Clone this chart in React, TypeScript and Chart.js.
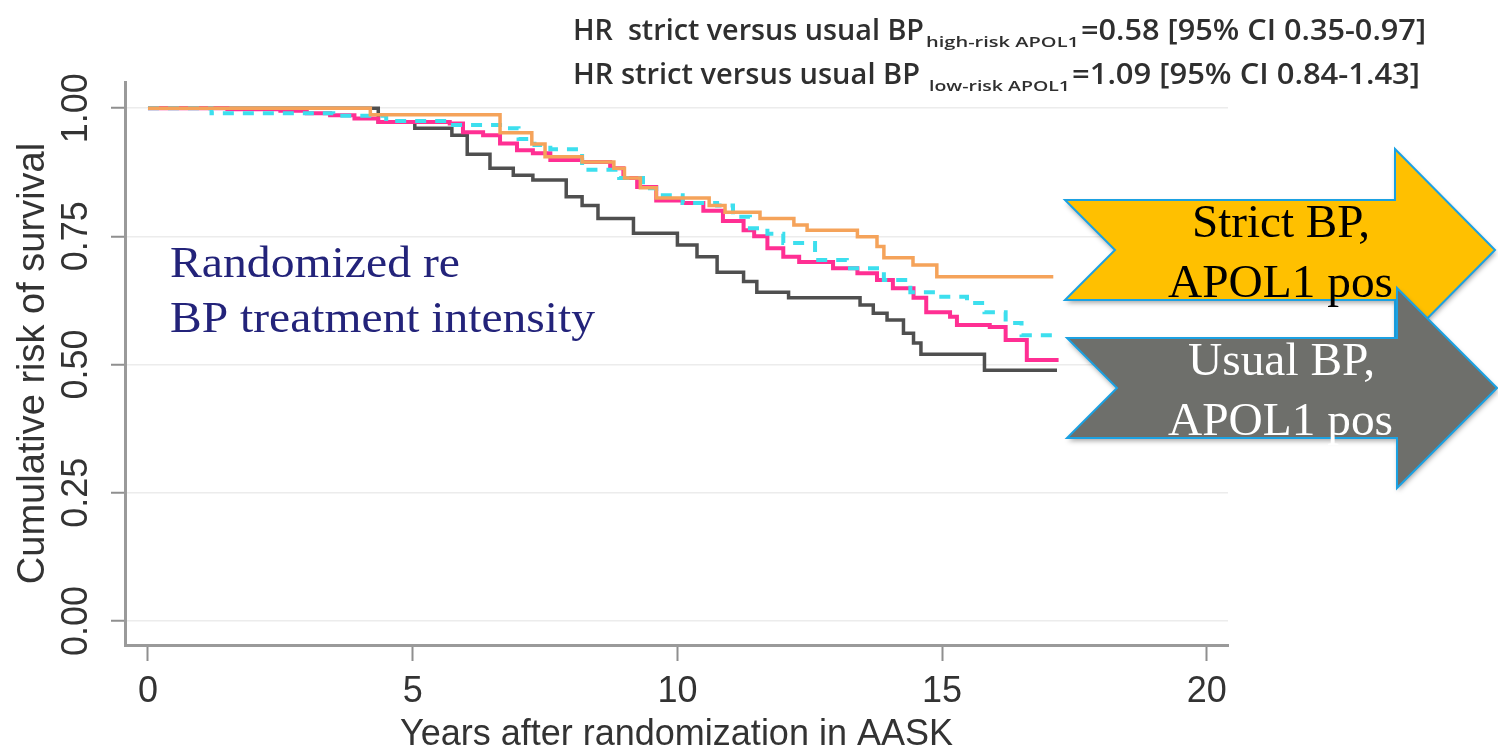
import React, { useEffect, useRef } from 'react';
import { Chart, registerables } from 'chart.js';

Chart.register(...registerables);

// ---------------- data ----------------
const xTickValues = [0, 5, 10, 15, 20];
const yTickValues = [0, 0.25, 0.5, 0.75, 1];
const yTickLabels = ['0.00', '0.25', '0.50', '0.75', '1.00'];

const xTitle = 'Years after randomization in AASK';
const yTitle = 'Cumulative risk of survival';

// Strict BP, APOL1 positive (orange)
const strictPosTimes = [0, 4.2, 6.65, 7.25, 7.5, 8.2, 8.8, 9.0, 9.3, 9.6, 10.6, 10.9, 11.56, 12.2, 12.45, 13.4, 13.77, 13.9, 14.45, 14.9, 17.1];
const strictPosSurv = [1.0, 0.987, 0.952, 0.93, 0.905, 0.895, 0.883, 0.864, 0.845, 0.825, 0.81, 0.797, 0.785, 0.772, 0.762, 0.749, 0.73, 0.708, 0.694, 0.671, 0.671];

// Usual BP, APOL1 positive (dark grey)
const usualPosTimes = [0, 4.35, 5.04, 5.74, 6.03, 6.46, 6.9, 7.27, 7.9, 8.2, 8.5, 9.17, 10.0, 10.37, 10.75, 11.25, 11.5, 12.1, 13.45, 13.7, 13.96, 14.27, 14.46, 14.6, 15.8, 17.17];
const usualPosSurv = [1.0, 0.973, 0.961, 0.947, 0.91, 0.883, 0.869, 0.86, 0.827, 0.81, 0.785, 0.756, 0.733, 0.71, 0.68, 0.662, 0.641, 0.63, 0.616, 0.6, 0.587, 0.561, 0.542, 0.52, 0.489, 0.489];

// Strict BP, APOL1 negative (magenta)
const strictNegTimes = [0, 1.5, 2.5, 3.0, 3.44, 3.9, 4.35, 5.7, 5.95, 6.33, 6.65, 6.97, 7.27, 7.6, 8.2, 8.73, 8.98, 9.24, 9.6, 10.1, 10.49, 10.86, 11.25, 11.45, 11.7, 12.0, 12.3, 12.94, 13.4, 13.77, 14.07, 14.46, 14.7, 15.15, 15.28, 15.9, 16.2, 16.6, 17.2];
const strictNegSurv = [1.0, 0.998, 0.995, 0.99, 0.986, 0.98, 0.973, 0.97, 0.953, 0.947, 0.931, 0.918, 0.912, 0.899, 0.895, 0.883, 0.864, 0.846, 0.82, 0.815, 0.8, 0.78, 0.762, 0.75, 0.727, 0.71, 0.7, 0.688, 0.678, 0.665, 0.649, 0.63, 0.602, 0.593, 0.577, 0.573, 0.548, 0.509, 0.509];

// Usual BP, APOL1 negative (cyan dashed)
const usualNegTimes = [0, 1.2, 3.5, 4.5, 5.7, 6.65, 7.0, 7.3, 7.6, 8.2, 8.9, 9.35, 9.6, 10.1, 10.75, 11.05, 11.37, 11.7, 12.0, 12.6, 13.2, 13.9, 14.4, 14.9, 15.47, 15.8, 16.2, 16.5, 17.1];
const usualNegSurv = [1.0, 0.99, 0.985, 0.975, 0.967, 0.961, 0.94, 0.928, 0.92, 0.88, 0.864, 0.844, 0.83, 0.815, 0.81, 0.788, 0.766, 0.755, 0.737, 0.704, 0.688, 0.665, 0.641, 0.632, 0.62, 0.602, 0.581, 0.557, 0.557];

const hrLine1Main = 'HR  strict versus usual BP';
const hrLine1Sub = 'high-risk APOL1';
const hrLine1Tail = '=0.58 [95% CI 0.35-0.97]';
const hrLine2Main = 'HR strict versus usual BP';
const hrLine2Sub = 'low-risk APOL1';
const hrLine2Tail = '=1.09 [95% CI 0.84-1.43]';

const noteLines = ['Randomized re', 'BP treatment intensity'];
const strictArrowLines = ['Strict BP,', 'APOL1 pos'];
const usualArrowLines = ['Usual BP,', 'APOL1 pos'];

// ---------------- helpers ----------------
const SANS = '"Liberation Sans", Arial, Helvetica, sans-serif';
const SERIF = '"Liberation Serif", "Times New Roman", serif';
const HEAD = '"Open Sans", "Noto Sans", sans-serif';

function toPoints(times: number[], surv: number[]) {
  return times.map((t, i) => ({ x: t, y: surv[i] }));
}

function fitText(ctx: CanvasRenderingContext2D, text: string, x: number, baseline: number, width: number, font: string, color: string) {
  ctx.save();
  ctx.font = font;
  ctx.fillStyle = color;
  ctx.textAlign = 'left';
  ctx.textBaseline = 'alphabetic';
  const w = ctx.measureText(text).width;
  ctx.translate(x, baseline);
  ctx.scale(width / w, 1);
  ctx.fillText(text, 0, 0);
  ctx.restore();
}

function arrowPath(ctx: CanvasRenderingContext2D, left: number, midY: number, shaftHalf: number, notch: number, headX: number, headHalf: number, tipX: number) {
  ctx.beginPath();
  ctx.moveTo(left, midY - shaftHalf);
  ctx.lineTo(headX, midY - shaftHalf);
  ctx.lineTo(headX, midY - headHalf);
  ctx.lineTo(tipX, midY);
  ctx.lineTo(headX, midY + headHalf);
  ctx.lineTo(headX, midY + shaftHalf);
  ctx.lineTo(left, midY + shaftHalf);
  ctx.lineTo(left + notch, midY);
  ctx.closePath();
}

const overlayPlugin = {
  id: 'overlay',
  afterDraw(chart: any) {
    const ctx: CanvasRenderingContext2D = chart.ctx;
    const ys = chart.scales.y;

    // rotated y tick labels (Stata style)
    ctx.save();
    ctx.fillStyle = '#333333';
    ctx.font = `36px ${SANS}`;
    ctx.textAlign = 'center';
    ctx.textBaseline = 'middle';
    yTickValues.forEach((v, i) => {
      const py = ys.getPixelForValue(v);
      ctx.save();
      ctx.translate(77, py);
      ctx.rotate(-Math.PI / 2);
      ctx.fillText(yTickLabels[i], 0, 0);
      ctx.restore();
    });
    ctx.restore();

    // HR header text
    const hc = '#2f2f2f';
    fitText(ctx, hrLine1Main, 573, 40, 351, `600 28px ${HEAD}`, hc);
    fitText(ctx, hrLine1Sub, 926, 47, 153, `600 15px ${HEAD}`, hc);
    fitText(ctx, hrLine1Tail, 1081, 40, 345, `600 28px ${HEAD}`, hc);
    fitText(ctx, hrLine2Main, 573, 84, 347, `600 28px ${HEAD}`, hc);
    fitText(ctx, hrLine2Sub, 929, 91, 141, `600 15px ${HEAD}`, hc);
    fitText(ctx, hrLine2Tail, 1072, 84, 348, `600 28px ${HEAD}`, hc);

    // annotation
    fitText(ctx, noteLines[0], 170, 277, 290, `45px ${SERIF}`, '#23237a');
    fitText(ctx, noteLines[1], 170, 332, 425, `45px ${SERIF}`, '#23237a');

    // arrows
    ctx.save();
    ctx.shadowColor = 'rgba(0,0,0,0.35)';
    ctx.shadowBlur = 5;
    ctx.shadowOffsetX = 1;
    ctx.shadowOffsetY = 3;
    arrowPath(ctx, 1065, 250, 50, 50, 1395, 101, 1495);
    ctx.fillStyle = '#ffc000';
    ctx.fill();
    ctx.shadowColor = 'transparent';
    ctx.lineWidth = 2;
    ctx.strokeStyle = '#1ba1e2';
    ctx.stroke();
    ctx.shadowColor = 'rgba(0,0,0,0.35)';
    arrowPath(ctx, 1067, 388, 50, 50, 1397, 100, 1497);
    ctx.fillStyle = '#6e6f6b';
    ctx.fill();
    ctx.shadowColor = 'transparent';
    ctx.stroke();
    ctx.restore();

    fitText(ctx, strictArrowLines[0], 1192, 237, 178, `46px ${SERIF}`, '#000000');
    fitText(ctx, strictArrowLines[1], 1168, 297, 225, `46px ${SERIF}`, '#000000');
    fitText(ctx, usualArrowLines[0], 1188, 375, 187, `46px ${SERIF}`, '#ffffff');
    fitText(ctx, usualArrowLines[1], 1168, 435, 225, `46px ${SERIF}`, '#ffffff');
  },
};

export default function App() {
  const canvasRef = useRef<HTMLCanvasElement | null>(null);

  useEffect(() => {
    document.body.style.margin = '0';
    const canvas = canvasRef.current;
    if (!canvas) return;
    const chart = new Chart(canvas, {
      type: 'line',
      data: {
        datasets: [
          {
            label: 'Strict BP, APOL1 pos',
            data: toPoints(strictPosTimes, strictPosSurv),
            borderColor: '#f5a35a',
            borderWidth: 3.5,
            stepped: 'before',
            pointRadius: 0,
            fill: false,
          },
          {
            label: 'Usual BP, APOL1 neg',
            data: toPoints(usualNegTimes, usualNegSurv),
            borderColor: '#3ddfee',
            borderWidth: 4,
            borderDash: [11, 9],
            stepped: 'before',
            pointRadius: 0,
            fill: false,
          },
          {
            label: 'Strict BP, APOL1 neg',
            data: toPoints(strictNegTimes, strictNegSurv),
            borderColor: '#ff2f93',
            borderWidth: 4,
            stepped: 'before',
            pointRadius: 0,
            fill: false,
          },
          {
            label: 'Usual BP, APOL1 pos',
            data: toPoints(usualPosTimes, usualPosSurv),
            borderColor: '#4f4f4f',
            borderWidth: 3.5,
            stepped: 'before',
            pointRadius: 0,
            fill: false,
          },
        ],
      },
      options: {
        animation: false,
        responsive: false,
        maintainAspectRatio: false,
        layout: { padding: { top: 82, right: 270, left: 0, bottom: 0 } },
        plugins: {
          legend: { display: false },
          tooltip: { enabled: false },
        },
        scales: {
          x: {
            type: 'linear',
            min: -0.434,
            max: 20.4,
            afterBuildTicks: (s: any) => {
              s.ticks = xTickValues.map((v) => ({ value: v }));
            },
            afterFit: (s: any) => {
              s.height = 111;
            },
            ticks: {
              color: '#333333',
              font: { family: SANS, size: 36, lineHeight: 1 },
              padding: 13,
              maxRotation: 0,
              autoSkip: false,
            },
            grid: {
              drawOnChartArea: false,
              drawTicks: true,
              tickLength: 16,
              tickColor: '#8f8f8f',
              tickWidth: 2,
            },
            border: { color: '#9a9a9a', width: 3 },
            title: {
              display: true,
              text: xTitle,
              color: '#333333',
              font: { family: SANS, size: 36, lineHeight: 1 },
              padding: { top: 0, bottom: 3 },
            },
          },
          y: {
            type: 'linear',
            min: -0.047,
            max: 1.051,
            afterBuildTicks: (s: any) => {
              s.ticks = yTickValues.map((v) => ({ value: v }));
            },
            afterFit: (s: any) => {
              s.width = 125;
            },
            ticks: { display: false },
            grid: {
              color: '#ececec',
              lineWidth: 1.5,
              drawTicks: true,
              tickLength: 14,
              tickColor: '#8f8f8f',
              tickWidth: 2,
            },
            border: { color: '#9a9a9a', width: 3 },
            title: {
              display: true,
              text: yTitle,
              color: '#333333',
              font: { family: SANS, size: 38, lineHeight: 1 },
              padding: { top: 15, bottom: 0 },
            },
          },
        },
      },
      plugins: [overlayPlugin],
    });
    return () => chart.destroy();
  }, []);

  return (
    <div style={{ position: 'absolute', left: 0, top: 0, width: 1498, height: 756, background: '#ffffff' }}>
      <canvas ref={canvasRef} width={1498} height={756} style={{ width: 1498, height: 756, display: 'block' }} />
    </div>
  );
}
